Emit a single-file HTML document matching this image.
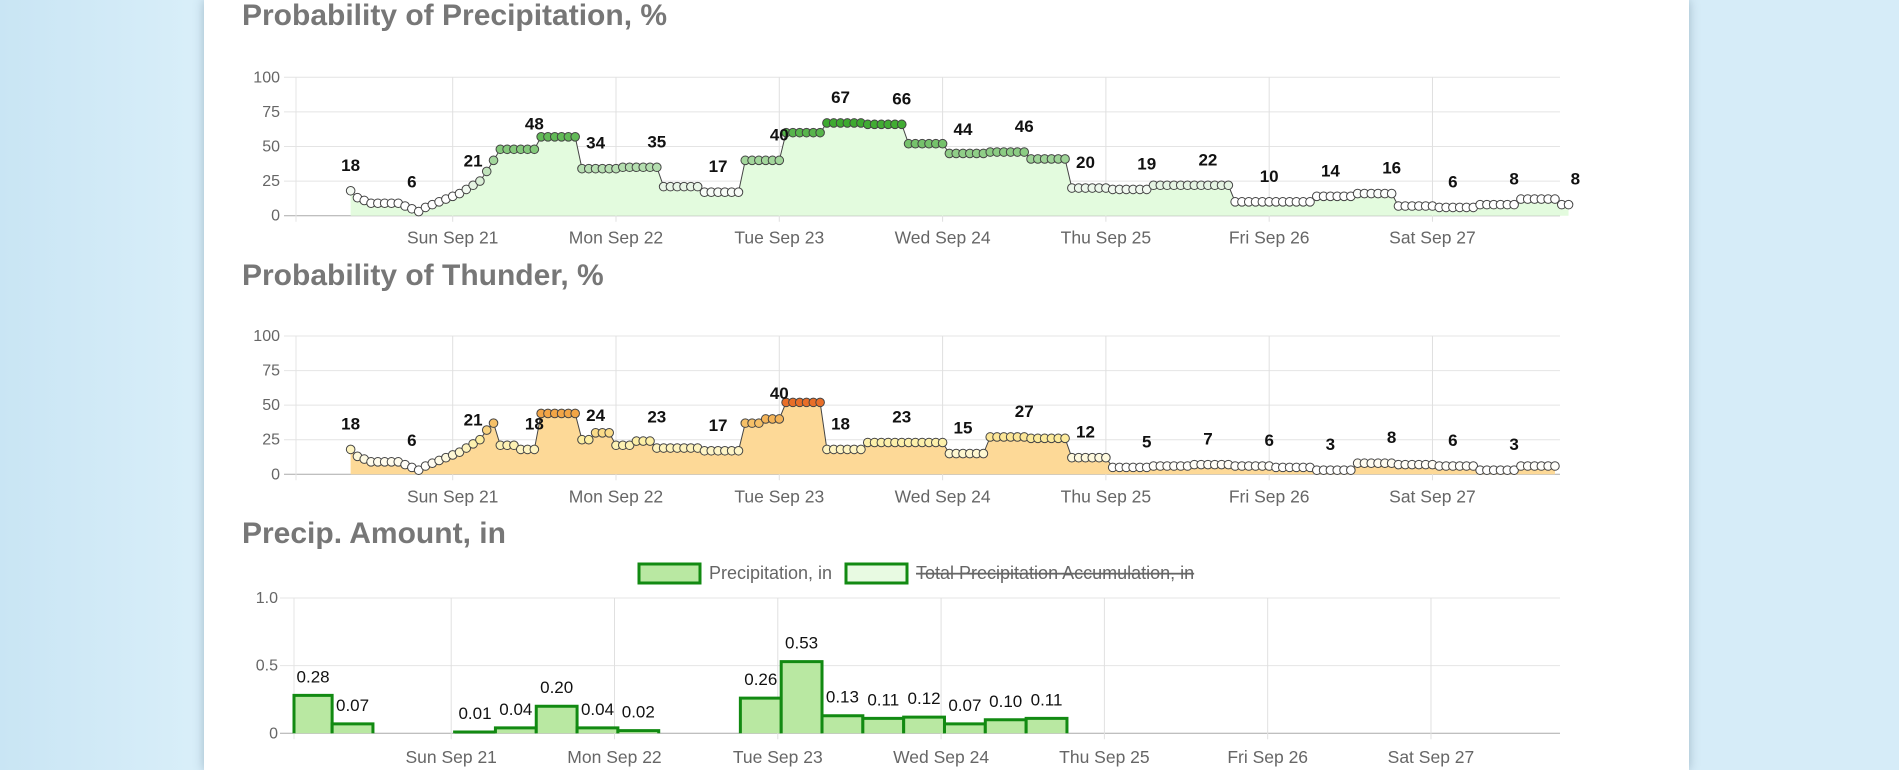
<!DOCTYPE html>
<html><head><meta charset="utf-8"><style>
html,body{margin:0;padding:0;width:1899px;height:770px;overflow:hidden;
background:linear-gradient(90deg,#c9e5f4 0%,#d8eef9 10%,#d6ecf8 100%);font-family:"Liberation Sans",sans-serif}
#card{position:absolute;left:204px;top:0;width:1485px;height:770px;background:#fff;box-shadow:0 0 10px rgba(90,120,140,.45)}
svg{position:absolute;left:0;top:0}
</style></head><body>
<div id="card"></div>
<svg id="chart" width="1899" height="770"></svg>
<script>
const popValues=[18,13,11,9,9,9,9,9,7,5,3,
6,8,10,12,14,16,19,22,25,32,40,
48,48,48,48,48,48,57,57,57,57,57,57,34,34,34,34,34,34,35,35,35,35,35,35,
21,21,21,21,21,21,17,17,17,17,17,17,40,40,40,40,40,40,60,60,60,60,60,60,
67,67,67,67,67,67,66,66,66,66,66,66,52,52,52,52,52,52,45,45,45,45,45,45,
46,46,46,46,46,46,41,41,41,41,41,41,20,20,20,20,20,20,19,19,19,19,19,19,
22,22,22,22,22,22,22,22,22,22,22,22,10,10,10,10,10,10,10,10,10,10,10,10,
14,14,14,14,14,14,16,16,16,16,16,16,7,7,7,7,7,7,6,6,6,6,6,6,
8,8,8,8,8,8,12,12,12,12,12,12,8,8];
const popLabels=[18,6,21,48,34,35,17,40,67,66,44,46,20,19,22,10,14,16,6,8,8];
const thunderValues=[18,13,11,9,9,9,9,9,7,5,3,
6,8,10,12,14,16,19,22,25,32,37,
21,21,21,18,18,18,44,44,44,44,44,44,25,25,30,30,30,21,21,21,24,24,24,
19,19,19,19,19,19,19,17,17,17,17,17,17,37,37,37,40,40,40,52,52,52,52,52,52,
18,18,18,18,18,18,23,23,23,23,23,23,23,23,23,23,23,23,15,15,15,15,15,15,
27,27,27,27,27,27,26,26,26,26,26,26,12,12,12,12,12,12,5,5,5,5,5,5,
6,6,6,6,6,6,7,7,7,7,7,7,6,6,6,6,6,6,5,5,5,5,5,5,3,3,3,3,3,3,
8,8,8,8,8,8,7,7,7,7,7,7,6,6,6,6,6,6,3,3,3,3,3,3,6,6,6,6,6,6];
const thunderLabels=[18,6,21,18,24,23,17,40,18,23,15,27,12,5,7,6,3,8,6,3];
const dayLabels=["Sun Sep 21","Mon Sep 22","Tue Sep 23","Wed Sep 24","Thu Sep 25","Fri Sep 26","Sat Sep 27"];
const pctTicks=[0,25,50,75,100];
const amtTicks=[0,0.5,1.0];
const amtTickText=["0","0.5","1.0"];
const amtBlockHours=[-24,-18,0,6,12,18,24,42,48,54,60,66,72,78,84];
const amtValues=[0.28,0.07,0.01,0.04,0.20,0.04,0.02,0.26,0.53,0.13,0.11,0.12,0.07,0.10,0.11];

const NS="http://www.w3.org/2000/svg";
const svg=document.getElementById('chart');
function mk(tag,attrs,parent){const e=document.createElementNS(NS,tag);for(const k in attrs)e.setAttribute(k,attrs[k]);(parent||svg).appendChild(e);return e;}
const X0=452.7,HR=6.804,START=-15;
function xh(h){return X0+h*HR;}
function lerp(a,b,t){return a.map((v,i)=>Math.round(v+(b[i]-v)*t));}
function rgb(c){return 'rgb('+c.join(',')+')';}
function popColor(v){const t=Math.max(0,Math.min(1,(v-15)/55));return rgb(lerp([255,255,255],[50,165,35],t));}
function thColor(v){if(v<=25){return rgb(lerp([255,255,255],[253,238,160],Math.max(0,(v-5)/20)));}
 if(v<=44)return rgb(lerp([253,238,160],[242,165,70],(v-25)/19));return rgb(lerp([242,165,70],[232,110,40],Math.min(1,(v-44)/8)));}

function pctChart(name,title,titleY,top,bottom,values,labels,fill,colorFn){
  const g=mk('g',{});
  
  
  const y=v=>bottom-(v/100)*(bottom-top);
  const t=mk('text',{x:242,y:titleY,'font-size':30,'font-weight':'bold',fill:'#777'},g);t.textContent=title;
  
  pctTicks.forEach(v=>{
    mk('line',{x1:284,x2:1560,y1:y(v),y2:y(v),stroke:v===0?'#aaa':'#e4e4e4','stroke-width':1},g);
    const tl=mk('text',{x:280,y:y(v)+5,'font-size':16,fill:'#666','text-anchor':'end'},g);tl.textContent=v;
    
  });
  mk('line',{x1:296,x2:296,y1:top,y2:bottom+6,stroke:'#e4e4e4'},g);
  dayLabels.forEach((d,i)=>{const x=xh(i*24);
    mk('line',{x1:x,x2:x,y1:top,y2:bottom+6,stroke:'#e0e0e0'},g);
    const tl=mk('text',{x:x,y:bottom+28,'font-size':17.5,fill:'#666','text-anchor':'middle'},g);tl.textContent=d;
    });
  let pts=values.map((v,i)=>[xh(START+i),y(v)]);
  let dA='M'+pts[0][0]+','+bottom+' '+pts.map(p=>'L'+p[0]+','+p[1]).join(' ')+' L'+pts[pts.length-1][0]+','+bottom+'Z';
  const area=mk('path',{d:dA,fill:fill},g);
  
  const ln=mk('path',{d:'M'+pts.map(p=>p[0]+','+p[1]).join(' L'),fill:'none',stroke:'#444','stroke-width':1},g);
  
  values.forEach((v,i)=>{const c=mk('circle',{cx:pts[i][0],cy:pts[i][1],r:4.3,fill:colorFn(v),stroke:'#444','stroke-width':1},g);
    });
  labels.forEach((v,k)=>{const tl=mk('text',{x:xh(START+9*k),y:y(v)-20,'font-size':17,'font-weight':'bold',fill:'#111','text-anchor':'middle'},g);tl.textContent=v;
    });
}
pctChart('precip-probability-chart','Probability of Precipitation, %',25,77.3,215.7,popValues,popLabels,'#e3fbde',popColor);
pctChart('thunder-probability-chart','Probability of Thunder, %',285,336,474.3,thunderValues,thunderLabels,'#fdd997',thColor);

(function(){
  const g=mk('g',{});
  
  
  const top=598,bottom=733.3;const y=v=>bottom-v*(bottom-top);
  const t=mk('text',{x:242,y:543,'font-size':30,'font-weight':'bold',fill:'#777'},g);t.textContent='Precip. Amount, in';
  
  amtTicks.forEach((v,i)=>{mk('line',{x1:280,x2:1560,y1:y(v),y2:y(v),stroke:v===0?'#aaa':'#e4e4e4'},g);
    const tl=mk('text',{x:278,y:y(v)+5,'font-size':16,fill:'#666','text-anchor':'end'},g);tl.textContent=amtTickText[i];
    });
  mk('line',{x1:294,x2:294,y1:top,y2:bottom+6,stroke:'#e4e4e4'},g);
  dayLabels.forEach((d,i)=>{const x=xh(i*24)-1.5;
    mk('line',{x1:x,x2:x,y1:top,y2:bottom+6,stroke:'#e0e0e0'},g);
    const tl=mk('text',{x:x,y:763,'font-size':17.5,fill:'#666','text-anchor':'middle'},g);tl.textContent=d;
    });
  amtValues.forEach((v,i)=>{
    const x1=Math.max(294,xh(amtBlockHours[i]+0.5)-1.5),x2=xh(amtBlockHours[i]+6.5)-1.5;
    const r=mk('path',{d:'M'+x1+','+bottom+' L'+x1+','+y(v)+' L'+x2+','+y(v)+' L'+x2+','+bottom,fill:'#b9e8a2',stroke:'#128a12','stroke-width':3},g);
    
    const tl=mk('text',{x:(x1+x2)/2,y:y(v)-13,'font-size':17,fill:'#111','text-anchor':'middle'},g);tl.textContent=v.toFixed(2);
    
  });
  const b1=mk('rect',{x:639,y:564,width:61,height:19,fill:'#b9e8a2',stroke:'#128a12','stroke-width':3},g);
  
  const l1=mk('text',{x:709,y:579,'font-size':18,fill:'#666'},g);l1.textContent='Precipitation, in';
  
  const b2=mk('rect',{x:846,y:564,width:61,height:19,fill:'#e8fae2',stroke:'#128a12','stroke-width':3},g);
  
  const l2=mk('text',{x:916,y:579,'font-size':18,fill:'#666','text-decoration':'line-through'},g);l2.textContent='Total Precipitation Accumulation, in';
  
})();
</script>
</body></html>
